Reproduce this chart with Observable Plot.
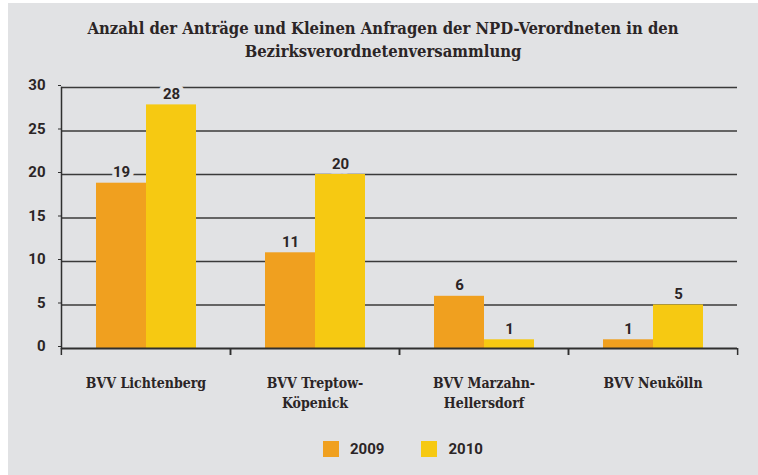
<!DOCTYPE html>
<html>
<head>
<meta charset="utf-8">
<script src="https://cdn.jsdelivr.net/npm/d3@7"></script>
<script src="https://cdn.jsdelivr.net/npm/@observablehq/plot@0.6"></script>
<style>
  html, body { margin: 0; padding: 0; background: #ffffff; }
  #card { position: absolute; left: 8px; top: 3px; width: 750px; height: 472px; background: #e1e2e4; overflow: hidden; }
  #title { position: absolute; left: 0; top: 14px; width: 750px; text-align: center;
    font-family: "DejaVu Serif Condensed", "DejaVu Serif", serif; font-weight: bold; font-size: 16.5px;
    line-height: 23px; color: #2b2526; }
  #chart { position: absolute; left: 0; top: 67px; }
  #legend { position: absolute; left: 315px; top: 429px; font-family: Roboto, sans-serif; font-weight: bold;
    font-size: 15px; color: #2b2526; }
  .lg-swatch { margin-right: 37px; }
  .lg-swatch > svg { margin-right: 11px; }
</style>
</head>
<body>
<div id="card">
  <div id="title">Anzahl der Anträge und Kleinen Anfragen der NPD-Verordneten in den<br>Bezirksverordnetenversammlung</div>
  <div id="chart"></div>
  <div id="legend"></div>
</div>
<script>
const categories = ["BVV Lichtenberg", "BVV Treptow-Köpenick", "BVV Marzahn-Hellersdorf", "BVV Neukölln"];
const categoryLabels = ["BVV Lichtenberg", "BVV Treptow-\nKöpenick", "BVV Marzahn-\nHellersdorf", "BVV Neukölln"];
const years = ["2009", "2010"];
const values2009 = [19, 11, 6, 1];
const values2010 = [28, 20, 1, 5];
const yTicks = [0, 5, 10, 15, 20, 25, 30];
const colors = ["#f0a01f", "#f6c912"];

const rows = categories.flatMap((c, i) => [
  {cat: c, year: years[0], value: values2009[i]},
  {cat: c, year: years[1], value: values2010[i]}
]);

const W = 750, H = 350, ML = 52, MR = 21, MT = 17, MB = 72;
const fw = (W - ML - MR) / categories.length;
const ink = "#2b2526";
const bg = "#e1e2e4";

const plot = Plot.plot({
  width: W, height: H,
  marginLeft: ML, marginRight: MR, marginTop: MT, marginBottom: MB,
  style: {background: "transparent", color: ink, fontFamily: "Roboto, sans-serif"},
  fx: {domain: categories, padding: 0, label: null, axis: null},
  x: {domain: years, paddingInner: 0, paddingOuter: 0.69, axis: null},
  y: {domain: [0, 30], axis: null},
  color: {domain: years, range: colors},
  marks: [
    Plot.ruleY(yTicks.filter(d => d > 0), {stroke: "#3a3a3a", strokeWidth: 1.3}),
    Plot.barY(rows, {fx: "cat", x: "year", y: "value", fill: "year"}),
    Plot.text(rows, {fx: "cat", x: "year", y: "value", text: d => String(d.value), dy: -6,
      lineAnchor: "bottom", fontSize: 15, fontWeight: "bold", fill: ink, stroke: bg, strokeWidth: 9}),
    Plot.ruleY([0], {stroke: "#2f2f2f", strokeWidth: 1.8}),
    Plot.frame({anchor: "left", facetAnchor: "left", stroke: "#2f2f2f", strokeWidth: 1.5}),
    Plot.axisY({ticks: yTicks, anchor: "left", tickSize: 3, tickPadding: 13, dy: -2, label: null,
      fontSize: 15, fontWeight: "bold", stroke: "#2f2f2f"}),
    Plot.axisFx({anchor: "bottom", tickSize: 7, tickFormat: () => "", dx: -fw / 2, label: null,
      strokeWidth: 1.5, stroke: "#2f2f2f"}),
    Plot.axisFx({anchor: "bottom", tickSize: 7, tickFormat: () => "", dx: fw / 2, label: null,
      strokeWidth: 1.5, stroke: "#2f2f2f"}),
    Plot.axisFx({anchor: "bottom", tickSize: 0, tickPadding: 26, label: null,
      tickFormat: d => categoryLabels[categories.indexOf(d)],
      fontFamily: "'DejaVu Serif Condensed', 'DejaVu Serif', serif", fontWeight: "bold",
      fontSize: 14, lineHeight: 1.4, fill: ink})
  ]
});
document.getElementById("chart").appendChild(plot);

const legend = Plot.legend({
  color: {domain: years, range: colors},
  legend: "swatches", swatchSize: 16, className: "lg",
  style: {fontFamily: "Roboto, sans-serif", fontWeight: "bold", fontSize: "15px", color: ink}
});
document.getElementById("legend").appendChild(legend);
</script>
</body>
</html>
